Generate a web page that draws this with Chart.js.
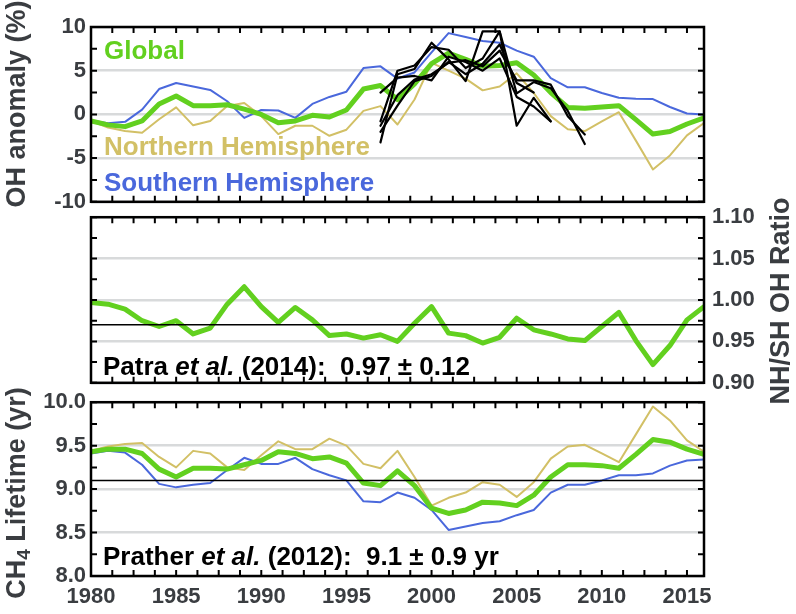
<!DOCTYPE html>
<html>
<head>
<meta charset="utf-8">
<title>OH anomaly / NH-SH ratio / CH4 lifetime</title>
<script src="https://cdn.jsdelivr.net/npm/chart.js@4.4.1/dist/chart.umd.min.js"></script>
<style>
    html, body { margin: 0; padding: 0; background: #fff; }
    #wrap { position: relative; width: 796px; height: 614px; overflow: hidden; }
    canvas { position: absolute; left: 0; }
</style>
</head>
<body>
<div id="wrap">
    <canvas id="ohChart" width="796" height="220" style="top:0px"></canvas>
    <canvas id="ratioChart" width="796" height="208" style="top:196px"></canvas>
    <canvas id="lifeChart" width="796" height="230" style="top:384px"></canvas>
</div>
<script>
/* Daten */
const years = [1980, 1981, 1982, 1983, 1984, 1985, 1986, 1987, 1988, 1989,
    1990, 1991, 1992, 1993, 1994, 1995, 1996, 1997, 1998, 1999,
    2000, 2001, 2002, 2003, 2004, 2005, 2006, 2007, 2008, 2009,
    2010, 2011, 2012, 2013, 2014, 2015, 2016];

// OH anomaly (%)
const ohGlobal = [-0.75, -1.2, -1.4, -0.75, 1.2, 2.1, 1.0, 1.0, 1.1, 0.6,
    0.0, -0.95, -0.75, -0.1, -0.3, 0.5, 2.9, 3.3, 1.7, 3.5,
    5.8, 7.0, 6.3, 5.5, 5.6, 5.9, 4.5, 2.5, 0.8, 0.7,
    0.85, 1.0, -0.6, -2.25, -1.95, -1.1, -0.4];
const ohNorth = [-0.75, -1.5, -1.9, -2.1, -0.55, 0.8, -1.25, -0.75, 0.95, 1.3,
    -0.2, -2.25, -1.3, -1.3, -2.45, -1.75, 0.4, 0.95, -1.15, 1.7,
    5.9, 5.0, 4.1, 2.75, 3.2, 4.7, 2.45, -0.2, -1.7, -1.9,
    -0.8, 0.25, -3.0, -6.3, -4.7, -2.4, -1.0];
const ohSouth = [-0.7, -1.0, -0.85, 0.55, 2.9, 3.6, 3.2, 2.8, 1.5, -0.4,
    0.5, 0.45, -0.4, 1.2, 2.0, 2.6, 5.3, 5.5, 4.1, 4.8,
    7.1, 9.3, 8.85, 8.4, 8.2, 7.3, 6.6, 4.15, 3.1, 3.1,
    2.45, 1.9, 1.8, 1.75, 0.85, 0.1, 0.0];

// andere Abschaetzungen (schwarze Linien), Beginn 1997
const blackStartYear = 1997;
const ohBlack1 = [-3.2, 4.6, 5.2, 8.2, 6.3, 3.8, 9.5, 9.5, -1.3, 1.9, -0.8];
const ohBlack2 = [-0.8, 5.0, 5.6, 7.7, 7.4, 5.3, 6.4, 9.5, 2.4, 3.7, 3.0, 0.4, -3.4];
const ohBlack3 = [-1.3, 2.2, 4.0, 4.6, 5.9, 6.2, 5.5, 7.3, 3.9, 3.9, 3.4, -0.2, -2.3];
const ohBlack4 = [2.5, 4.2, 4.4, 3.9, 6.6, 6.0, 5.0, 6.4, 2.0, 0.9, -0.8];
const ohBlack5 = [-2.0, 1.0, 3.8, 4.4, 6.0, 4.6, 5.8, 8.0, 3.6, 2.5];

// NH/SH OH Ratio
const ratioGlobal = [0.997, 0.995, 0.989, 0.975, 0.968, 0.975, 0.959, 0.966, 0.995, 1.016,
    0.992, 0.973, 0.991, 0.976, 0.957, 0.959, 0.954, 0.958, 0.950, 0.972,
    0.992, 0.960, 0.957, 0.948, 0.955, 0.978, 0.964, 0.959, 0.953, 0.951,
    0.968, 0.985, 0.951, 0.922, 0.945, 0.976, 0.992];
const ratioPatra = 0.97;

// CH4 Lifetime (yr)
const lifeGlobal = [9.43, 9.46, 9.46, 9.41, 9.23, 9.14, 9.24, 9.24, 9.23, 9.28,
    9.33, 9.43, 9.41, 9.35, 9.37, 9.30, 9.07, 9.04, 9.21, 9.04,
    8.78, 8.72, 8.76, 8.85, 8.84, 8.81, 8.93, 9.14, 9.28, 9.28,
    9.27, 9.24, 9.40, 9.57, 9.54, 9.46, 9.40];
const lifeNorth = [9.44, 9.49, 9.52, 9.53, 9.37, 9.25, 9.44, 9.41, 9.25, 9.22,
    9.39, 9.55, 9.46, 9.46, 9.58, 9.50, 9.29, 9.24, 9.44, 9.14,
    8.81, 8.90, 8.96, 9.08, 9.05, 8.91, 9.08, 9.35, 9.49, 9.51,
    9.41, 9.31, 9.63, 9.95, 9.79, 9.56, 9.43];
const lifeSouth = [9.41, 9.44, 9.42, 9.28, 9.06, 9.02, 9.05, 9.07, 9.22, 9.36,
    9.29, 9.29, 9.36, 9.23, 9.16, 9.10, 8.86, 8.85, 8.96, 8.90,
    8.76, 8.53, 8.57, 8.61, 8.63, 8.70, 8.76, 8.96, 9.05, 9.05,
    9.10, 9.16, 9.16, 9.18, 9.27, 9.33, 9.34];
const lifePrather = 9.1;

// Achsen / Ticks
const xMin = 1980, xMax = 2016;
const xLabelTicks = [1980, 1985, 1990, 1995, 2000, 2005, 2010, 2015];
const xMinorTicks = Array.from({length: 29}, (_, i) => 1980 + i * 1.25);
const ohTicks = [-10, -5, 0, 5, 10];
const ohMinorTicks = Array.from({length: 9}, (_, i) => -10 + i * 2.5);
const ratioTicks = [0.90, 0.95, 1.00, 1.05, 1.10];
const ratioMinorTicks = Array.from({length: 9}, (_, i) => 0.90 + i * 0.025);
const lifeTicks = [8.0, 8.5, 9.0, 9.5, 10.0];
const lifeMinorTicks = Array.from({length: 9}, (_, i) => 8.0 + i * 0.25);

/* Farben & Schrift */
const GREEN = '#62d01f';
const TAN = '#d2c066';
const BLUE = '#4a68dc';
const TEXTGRAY = '#3a3d41';
const GRIDGRAY = '#d8dadb';
const FONT = '"Liberation Sans", Arial, Helvetica, sans-serif';
Chart.defaults.font.family = FONT;

function toPoints(startYear, values) {
    return values.map((v, i) => ({x: startYear + i, y: v}));
}

function flatLine(value) {
    return [{x: xMin, y: value}, {x: xMax, y: value}];
}

function lineSet(label, data, color, width) {
    return {
        label: label, data: data, borderColor: color, backgroundColor: color,
        borderWidth: width, pointRadius: 0, tension: 0, fill: false,
        borderJoinStyle: 'round', borderCapStyle: 'round'
    };
}

// Rahmen, Ticks nach innen, Texte
const panelDeko = {
    id: 'panelDeko',
    afterDatasetsDraw(chart, args, opts) {
        const ctx = chart.ctx;
        const a = chart.chartArea;
        const xs = chart.scales.x, ys = chart.scales.y;
        ctx.save();
        ctx.strokeStyle = '#000';
        ctx.lineWidth = 2;
        ctx.beginPath();
        xMinorTicks.forEach(v => {
            const px = xs.getPixelForValue(v);
            ctx.moveTo(px, a.bottom); ctx.lineTo(px, a.bottom - 6);
            ctx.moveTo(px, a.top); ctx.lineTo(px, a.top + 6);
        });
        opts.yMinor.forEach(v => {
            const py = ys.getPixelForValue(v);
            ctx.moveTo(a.left, py); ctx.lineTo(a.left + 6, py);
            ctx.moveTo(a.right, py); ctx.lineTo(a.right - 6, py);
        });
        ctx.stroke();
        ctx.lineWidth = 2.5;
        ctx.strokeRect(a.left, a.top, a.right - a.left, a.bottom - a.top);

        // Beschriftungen im Diagramm
        ctx.textBaseline = 'alphabetic';
        ctx.textAlign = 'left';
        (opts.texts || []).forEach(t => {
            let x = t.x;
            t.parts.forEach(p => {
                ctx.font = (p.italic ? 'italic ' : '') + 'bold ' + t.size + 'px ' + FONT;
                ctx.fillStyle = t.color;
                ctx.fillText(p.text, x, t.y);
                x += ctx.measureText(p.text).width;
            });
        });

        // Achsentitel (gedreht)
        const tt = opts.title;
        if (tt) {
            ctx.translate(tt.x, tt.y);
            ctx.rotate(-Math.PI / 2);
            ctx.fillStyle = TEXTGRAY;
            let total = 0;
            tt.parts.forEach(p => {
                ctx.font = 'bold ' + (p.sub ? tt.size * 0.7 : tt.size) + 'px ' + FONT;
                total += ctx.measureText(p.text).width;
            });
            let x = -total / 2;
            tt.parts.forEach(p => {
                ctx.font = 'bold ' + (p.sub ? tt.size * 0.7 : tt.size) + 'px ' + FONT;
                ctx.fillText(p.text, x, p.sub ? 5 : 0);
                x += ctx.measureText(p.text).width;
            });
        }
        ctx.restore();
    }
};

function yScale(pos, min, max, ticks, width, digits, pad) {
    return {
        type: 'linear', position: pos, min: min, max: max,
        afterFit: s => { s.width = width; },
        afterBuildTicks: s => { s.ticks = ticks.map(v => ({value: v})); },
        ticks: {
            color: TEXTGRAY, padding: pad, autoSkip: false,
            font: {size: 22, weight: 'bold'},
            callback: v => v.toFixed(digits)
        },
        grid: {color: GRIDGRAY, lineWidth: 2.5, drawTicks: false},
        border: {display: false}
    };
}

const hiddenX = {type: 'linear', min: xMin, max: xMax, display: false};

const baseOptions = {
    responsive: false, animation: false, events: [],
    plugins: {legend: {display: false}, tooltip: {enabled: false}}
};

/* OH-Anomalie-Chart */
new Chart(document.getElementById('ohChart'), {
    type: 'line',
    data: {
        datasets: [
            lineSet('Modell 1', toPoints(blackStartYear, ohBlack1), '#000', 2.2),
            lineSet('Modell 2', toPoints(blackStartYear, ohBlack2), '#000', 2.2),
            lineSet('Modell 3', toPoints(blackStartYear, ohBlack3), '#000', 2.2),
            lineSet('Modell 4', toPoints(blackStartYear, ohBlack4), '#000', 2.2),
            lineSet('Modell 5', toPoints(blackStartYear, ohBlack5), '#000', 2.2),
            lineSet('Global', toPoints(1980, ohGlobal), GREEN, 5),
            lineSet('Northern Hemisphere', toPoints(1980, ohNorth), TAN, 2),
            lineSet('Southern Hemisphere', toPoints(1980, ohSouth), BLUE, 2)
        ]
    },
    options: {
        ...baseOptions,
        layout: {padding: {top: 27, right: 92, bottom: 17, left: 0}},
        plugins: {
            ...baseOptions.plugins,
            panelDeko: {
                yMinor: ohMinorTicks,
                texts: [
                    {x: 104, y: 59, size: 26, color: GREEN, parts: [{text: 'Global'}]},
                    {x: 104, y: 155, size: 26, color: TAN, parts: [{text: 'Northern Hemisphere'}]},
                    {x: 104, y: 191, size: 26, color: BLUE, parts: [{text: 'Southern Hemisphere'}]}
                ],
                title: {x: 25, y: 104, size: 27, parts: [{text: 'OH anomaly (%)'}]}
            }
        },
        scales: {
            x: hiddenX,
            y: yScale('left', -10, 10, ohTicks, 91, 0, 5)
        }
    },
    plugins: [panelDeko]
});

/* NH/SH-Verhaeltnis-Chart */
new Chart(document.getElementById('ratioChart'), {
    type: 'line',
    data: {
        datasets: [
            lineSet('Patra et al. (2014)', flatLine(ratioPatra), '#000', 1.5),
            lineSet('NH/SH', toPoints(1980, ratioGlobal), GREEN, 5)
        ]
    },
    options: {
        ...baseOptions,
        layout: {padding: {top: 18, right: 0, bottom: 16, left: 91}},
        plugins: {
            ...baseOptions.plugins,
            panelDeko: {
                yMinor: ratioMinorTicks,
                texts: [
                    {x: 103, y: 179, size: 26, color: '#000',
                        parts: [{text: 'Patra '}, {text: 'et al.', italic: true}, {text: ' (2014):  0.97 \u00b1 0.12'}]}
                ],
                title: {x: 789, y: 105, size: 27, parts: [{text: 'NH/SH OH Ratio'}]}
            }
        },
        scales: {
            x: hiddenX,
            y: yScale('right', 0.90, 1.10, ratioTicks, 92, 2, 8)
        }
    },
    plugins: [panelDeko]
});

/* CH4-Lebensdauer-Chart */
new Chart(document.getElementById('lifeChart'), {
    type: 'line',
    data: {
        datasets: [
            lineSet('Prather et al. (2012)', flatLine(lifePrather), '#000', 1.5),
            lineSet('Global', toPoints(1980, lifeGlobal), GREEN, 5),
            lineSet('Northern Hemisphere', toPoints(1980, lifeNorth), TAN, 2),
            lineSet('Southern Hemisphere', toPoints(1980, lifeSouth), BLUE, 2)
        ]
    },
    options: {
        ...baseOptions,
        layout: {padding: {top: 18, right: 92, bottom: 0, left: 0}},
        plugins: {
            ...baseOptions.plugins,
            panelDeko: {
                yMinor: lifeMinorTicks,
                texts: [
                    {x: 103, y: 181, size: 26, color: '#000',
                        parts: [{text: 'Prather '}, {text: 'et al.', italic: true}, {text: ' (2012):  9.1 \u00b1 0.9 yr'}]}
                ],
                title: {x: 25, y: 109, size: 27, parts: [{text: 'CH'}, {text: '4', sub: true}, {text: ' Lifetime (yr)'}]}
            }
        },
        scales: {
            x: {
                type: 'linear', position: 'bottom', min: xMin, max: xMax,
                afterFit: s => { s.height = 38; },
                afterBuildTicks: s => { s.ticks = xLabelTicks.map(v => ({value: v})); },
                ticks: {
                    color: TEXTGRAY, padding: 8, autoSkip: false, maxRotation: 0,
                    font: {size: 22, weight: 'bold'},
                    callback: v => String(v)
                },
                grid: {display: false, drawTicks: false},
                border: {display: false}
            },
            y: yScale('left', 8.0, 10.0, lifeTicks, 91, 1, 5)
        }
    },
    plugins: [panelDeko]
});
</script>
</body>
</html>
